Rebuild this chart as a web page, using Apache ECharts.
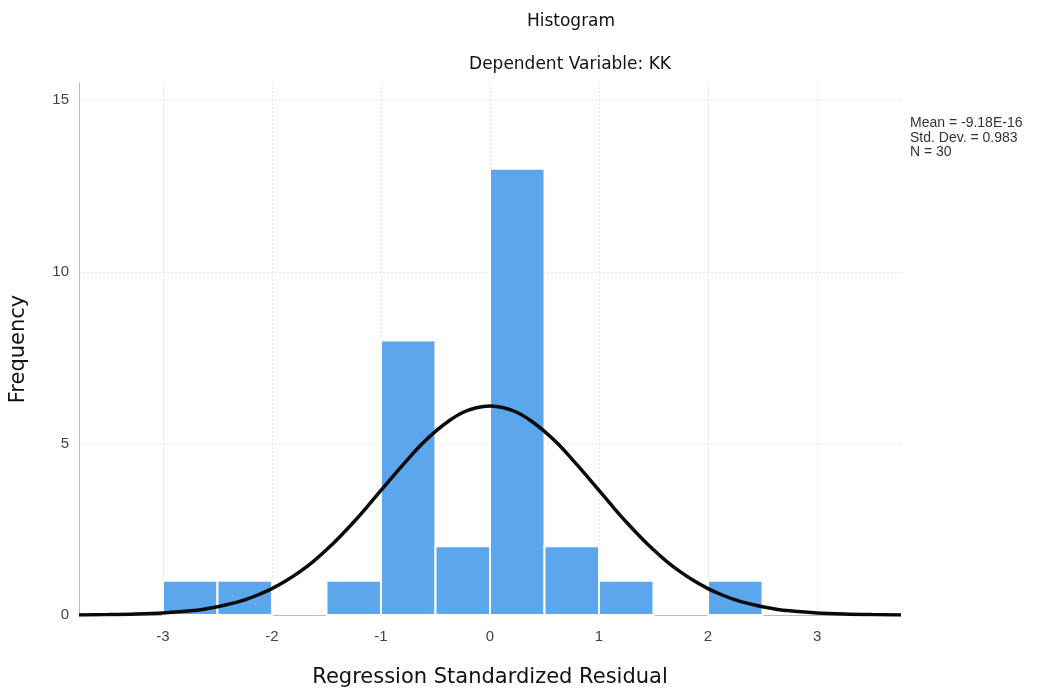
<!DOCTYPE html>
<html><head><meta charset="utf-8">
<script src="https://cdn.jsdelivr.net/npm/echarts@6/dist/echarts.min.js"></script>
<style>html,body{margin:0;padding:0;background:#fff}#c{width:1043px;height:693px}</style>
</head><body><div id="c"></div>
<script>
// Histogram bins (start of each 0.5-wide bin) and frequencies
const binStarts = [-3.0, -2.5, -1.5, -1.0, -0.5, 0.0, 0.5, 1.0, 2.0];
const binWidth = 0.5;
const counts = [1, 1, 1, 8, 2, 13, 2, 1, 1];
// Normal curve points
const curveX = [-3.77,-3.5,-3.25,-3.0,-2.75,-2.625,-2.5,-2.375,-2.25,-2.125,-2.0,-1.875,-1.75,-1.625,-1.5,-1.375,-1.25,-1.125,-1.0,-0.875,-0.75,-0.625,-0.5,-0.375,-0.25,-0.125,0.0,0.125,0.25,0.375,0.5,0.625,0.75,0.875,1.0,1.125,1.25,1.375,1.5,1.625,1.75,1.875,2.0,2.125,2.25,2.375,2.5,2.625,2.75,3.0,3.25,3.5,3.77];
const curveY = [0.003,0.011,0.026,0.058,0.122,0.17,0.24,0.33,0.44,0.59,0.77,0.99,1.25,1.55,1.9,2.29,2.71,3.16,3.63,4.1,4.55,4.98,5.35,5.66,5.9,6.04,6.09,6.04,5.9,5.66,5.35,4.98,4.55,4.1,3.63,3.16,2.71,2.29,1.9,1.55,1.25,0.99,0.77,0.59,0.44,0.33,0.24,0.17,0.122,0.058,0.026,0.011,0.003];
const xTicks = [-3, -2, -1, 0, 1, 2, 3];
const yTicks = [0, 5, 10, 15];
const statsLines = ['Mean = -9.18E-16', 'Std. Dev. = 0.983', 'N = 30'];

const chart = echarts.init(document.getElementById('c'));
const font = 'Liberation Sans, Arial, sans-serif';
chart.setOption({
  animation: false,
  backgroundColor: '#fff',
  title: [
    {text: 'Histogram', left: 566, top: 8, textAlign: 'center',
     textStyle: {fontFamily: 'DejaVu Sans', fontSize: 17, fontWeight: 'normal', color: '#111'}},
    {text: 'Dependent Variable: KK', left: 565, top: 51, textAlign: 'center',
     textStyle: {fontFamily: 'DejaVu Sans', fontSize: 17, fontWeight: 'normal', color: '#111'}}
  ],
  grid: {left: 78, right: 142, top: 83, bottom: 77, containLabel: false},
  xAxis: {
    type: 'value', min: -3.77, max: 3.77,
    name: 'Regression Standardized Residual', nameLocation: 'middle', nameGap: 52,
    nameTextStyle: {fontFamily: 'DejaVu Sans', fontSize: 21, color: '#111'},
    axisLine: {show: true, onZero: false, lineStyle: {color: '#bbb', width: 1}},
    axisTick: {show: false, customValues: xTicks},
    axisLabel: {customValues: xTicks, fontFamily: font, fontSize: 15, color: '#444', margin: 14},
    splitLine: {show: true, lineStyle: {color: '#e4e4e4', type: [2, 2]}}
  },
  yAxis: {
    type: 'value', min: 0, max: 15.5,
    name: 'Frequency', nameLocation: 'middle', nameGap: 50,
    nameTextStyle: {fontFamily: 'DejaVu Sans', fontSize: 21, color: '#111'},
    axisLine: {show: true, onZero: false, lineStyle: {color: '#bbb', width: 1}},
    axisTick: {show: false, customValues: yTicks},
    axisLabel: {customValues: yTicks, fontFamily: font, fontSize: 15, color: '#444', margin: 10},
    splitLine: {show: true, lineStyle: {color: '#e4e4e4', type: [2, 2]}}
  },
  graphic: [{
    type: 'text', left: 910, top: 116,
    style: {text: statsLines.join('\n'), font: '14px Liberation Sans', fill: '#333', lineHeight: 14.5}
  }],
  series: [
    {
      type: 'custom',
      data: binStarts.map((s, i) => [s, s + binWidth, counts[i]]),
      encode: {x: [0, 1], y: 2},
      renderItem: function (params, api) {
        const p0 = api.coord([api.value(0), api.value(2)]);
        const p1 = api.coord([api.value(1), 0]);
        return {
          type: 'rect',
          shape: {x: p0[0], y: p0[1], width: p1[0] - p0[0], height: p1[1] - p0[1]},
          style: {fill: '#5ba6ec', stroke: '#ffffff', lineWidth: 2}
        };
      },
      z: 2
    },
    {
      type: 'line', smooth: 0.3, symbol: 'none',
      data: curveX.map((x, i) => [x, curveY[i]]),
      lineStyle: {color: '#0a0a0a', width: 3.5},
      z: 3
    }
  ]
});
</script></body></html>
